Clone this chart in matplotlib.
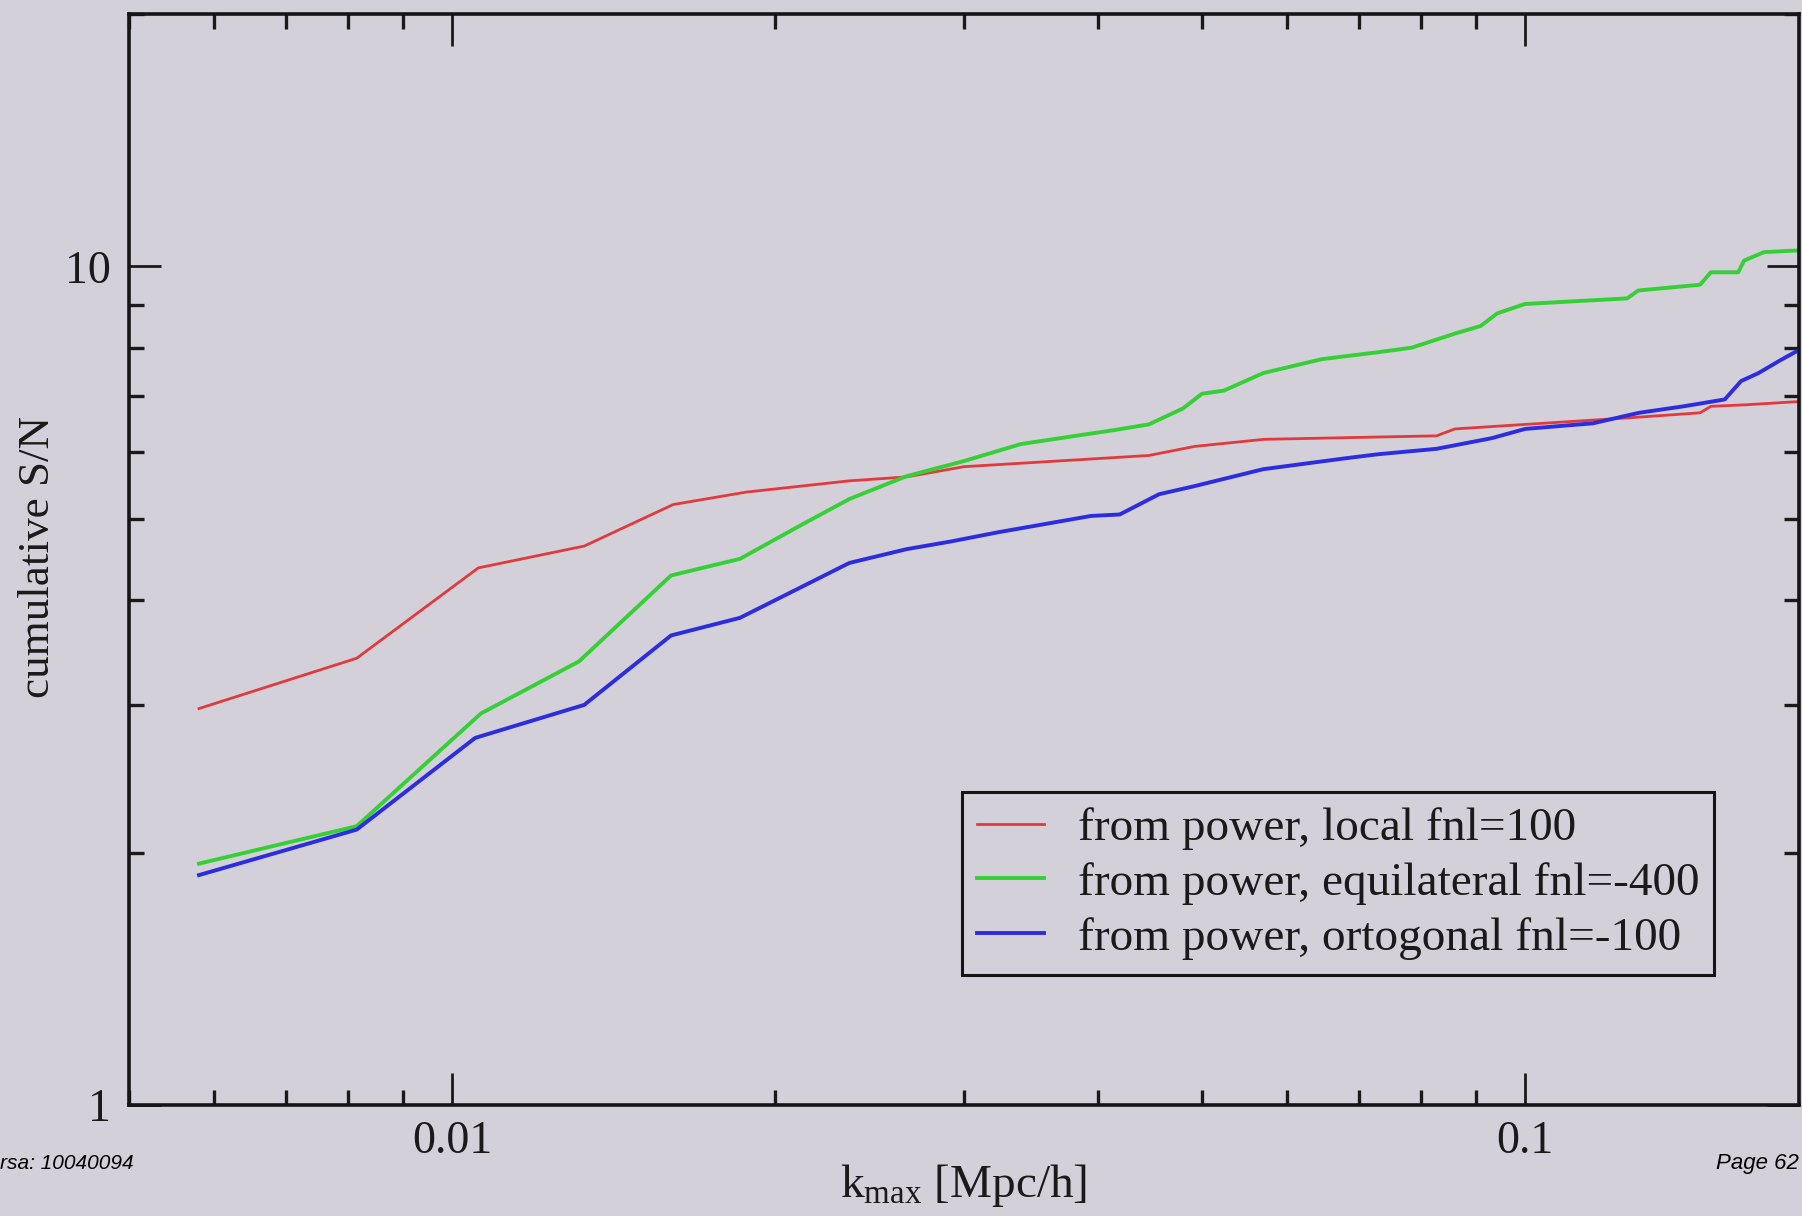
import numpy as np
import matplotlib
matplotlib.use("Agg")
import matplotlib.pyplot as plt
from matplotlib.ticker import NullFormatter

plt.rcParams['font.family'] = ['Liberation Serif', 'DejaVu Serif']
plt.rcParams['mathtext.fontset'] = 'custom'
plt.rcParams['mathtext.rm'] = 'Liberation Serif'
plt.rcParams['mathtext.it'] = 'Liberation Serif:italic'

# cumulative S/N vs k_max, one curve per fnl shape
k_local = [0.00581, 0.00815, 0.01058, 0.01328, 0.01607, 0.01878, 0.02346, 0.02651,
           0.0300, 0.0446, 0.0492, 0.0571, 0.0827, 0.0860, 0.100, 0.1253, 0.1456,
           0.149, 0.161, 0.18]
sn_local = [2.97, 3.41, 4.37, 4.64, 5.20, 5.38, 5.55, 5.61,
            5.77, 5.95, 6.10, 6.22, 6.28, 6.40, 6.48, 6.60, 6.69,
            6.81, 6.84, 6.90]

k_equil = [0.00581, 0.00815, 0.01064, 0.01313, 0.0160, 0.01855, 0.02124, 0.02346,
           0.02651, 0.0300, 0.0339, 0.0414, 0.0446, 0.0480, 0.0500, 0.0524, 0.0570,
           0.0646, 0.0729, 0.0784, 0.0864, 0.0909, 0.0942, 0.100, 0.1245, 0.1275,
           0.1456, 0.149, 0.158, 0.160, 0.167, 0.18]
sn_equil = [1.94, 2.15, 2.93, 3.38, 4.28, 4.48, 4.93, 5.28,
            5.62, 5.86, 6.14, 6.38, 6.48, 6.77, 7.05, 7.11, 7.46,
            7.75, 7.90, 8.00, 8.33, 8.49, 8.79, 9.02, 9.16, 9.36,
            9.51, 9.84, 9.84, 10.16, 10.40, 10.45]

k_orto = [0.00581, 0.00815, 0.01051, 0.01328, 0.0160, 0.01855, 0.02346, 0.02651,
          0.0292, 0.0323, 0.0394, 0.0419, 0.0456, 0.0492, 0.0570, 0.0677, 0.0729,
          0.0827, 0.0931, 0.100, 0.1157, 0.1277, 0.1405, 0.1535, 0.159, 0.165,
          0.173, 0.18]
sn_orto = [1.88, 2.13, 2.74, 3.00, 3.63, 3.81, 4.43, 4.60,
           4.70, 4.82, 5.04, 5.06, 5.35, 5.47, 5.73, 5.90, 5.97,
           6.06, 6.24, 6.40, 6.50, 6.69, 6.81, 6.94, 7.30, 7.46,
           7.73, 7.95]

labels = ['from power, local fnl=100',
          'from power, equilateral fnl=-400',
          'from power, ortogonal fnl=-100']

bg = '#d3d0da'
ink = '#1a1a1a'
fig = plt.figure(figsize=(18.02, 12.16), dpi=100, facecolor=bg)
ax = fig.add_axes([0.0716, 0.0913, 0.9267, 0.8972])
ax.set_facecolor(bg)

ax.plot(k_local, sn_local, color='#e23a3c', lw=2.0, label=labels[0])
ax.plot(k_equil, sn_equil, color='#36cf36', lw=2.8, label=labels[1])
ax.plot(k_orto, sn_orto, color='#2c2ce0', lw=2.8, label=labels[2])

ax.set_xscale('log')
ax.set_yscale('log')
ax.set_xlim(0.005, 0.18)
ax.set_ylim(1, 20)

ax.set_xticks([0.01, 0.1])
ax.set_xticklabels(['0.01', '0.1'])
ax.set_yticks([1, 10])
ax.set_yticklabels(['1', '10'])
ax.xaxis.set_minor_formatter(NullFormatter())
ax.yaxis.set_minor_formatter(NullFormatter())

ax.tick_params(which='both', direction='in', top=True, right=True,
               color=ink, labelsize=33, labelcolor=ink)
ax.tick_params(which='major', length=23, width=2)
ax.tick_params(which='minor', length=11, width=2.4)
ax.tick_params(axis='x', pad=11)
ax.tick_params(axis='y', pad=13)
for s in ax.spines.values():
    s.set_linewidth(2.6)
    s.set_color('#151515')

ax.set_xlabel(r'k$_{\mathrm{max}}$ [Mpc/h]', fontsize=34, color=ink, va='top')
ax.xaxis.set_label_coords(0.5, -0.052)
ax.set_ylabel('cumulative S/N', fontsize=32.5, color=ink, va='center')
ax.yaxis.set_label_coords(-0.0545, 0.502)

leg = ax.legend(loc='upper left', bbox_to_anchor=(0.4988, 0.2869), borderaxespad=0,
                fontsize=34, frameon=True, fancybox=False, framealpha=1,
                handlelength=1.41, handletextpad=0.72, borderpad=0.32,
                labelspacing=0.25)
leg.get_frame().set_edgecolor('#151515')
leg.get_frame().set_facecolor(bg)
leg.get_frame().set_linewidth(2.2)
for t in leg.get_texts():
    t.set_color(ink)

# page footer
fig.text(0.0, 0.043, 'rsa: 10040094', fontsize=15, style='italic',
         family=['Liberation Sans', 'DejaVu Sans'], va='center', ha='left')
fig.text(0.998, 0.043, 'Page 62', fontsize=16, style='italic',
         family=['Liberation Sans', 'DejaVu Sans'], va='center', ha='right')

fig.savefig('out.png', dpi=100, facecolor=bg)
